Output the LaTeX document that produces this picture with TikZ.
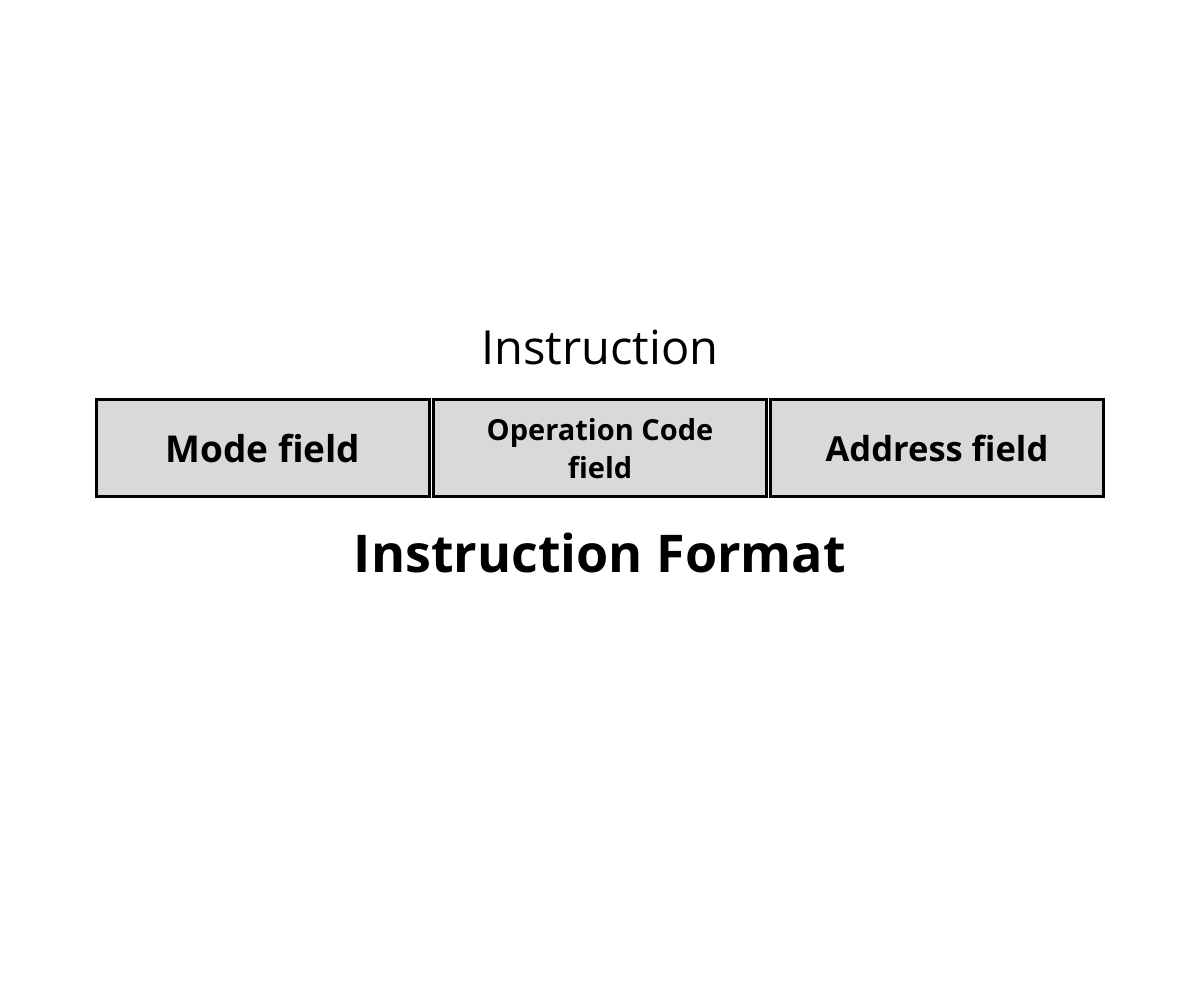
\documentclass[tikz,border=0pt]{standalone}
\usepackage{fontspec}
\setmainfont{Open Sans}
\usetikzlibrary{positioning}
\tikzset{x=1pt, y=1pt,
field/.style={draw, line width=3pt, fill=gray!30, minimum width=333pt, minimum height=97pt, inner sep=0pt, align=center, font=\bfseries},
}

\begin{document}
\begin{tikzpicture}
    \useasboundingbox (0,0) rectangle (1200,1000);
        \node[field, font=\fontsize{37}{44}\bfseries\selectfont] (mode) at (263,551.5) {Mode field};
        \node[field, right=1pt of mode, font=\fontsize{29}{38}\bfseries\selectfont] (opcode) {Operation Code\\field};
        \node[field, right=1pt of opcode, font=\fontsize{34.5}{40}\bfseries\selectfont] (addr) {Address field};
        \node[above=33pt of opcode, inner sep=0pt, font=\fontsize{47}{50}\selectfont] (title) {Instruction};
        \node[below=34pt of opcode, inner sep=0pt, font=\fontsize{52}{58}\bfseries\selectfont] (caption) {Instruction Format};
    \end{tikzpicture}
\end{document}
